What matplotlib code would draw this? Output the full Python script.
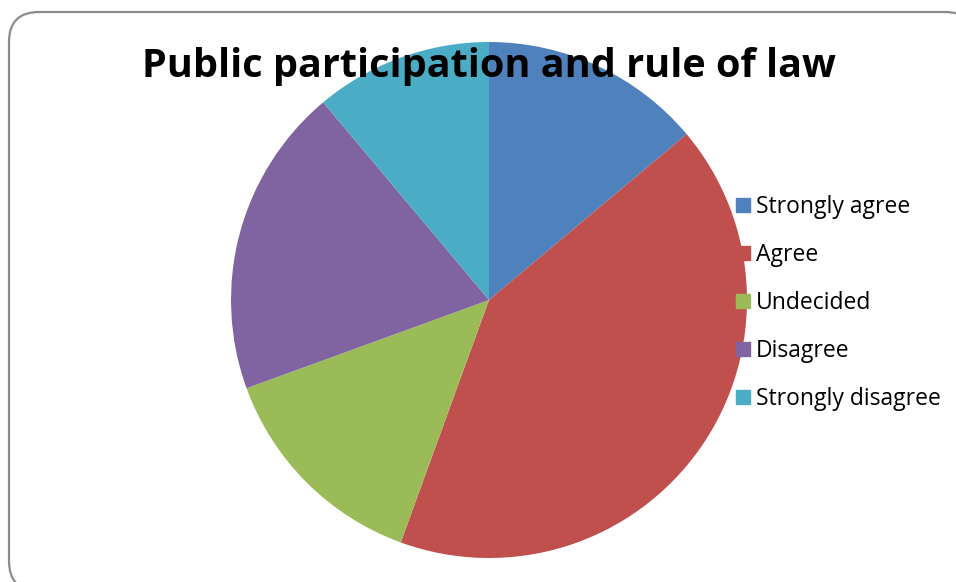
import matplotlib.pyplot as plt
from matplotlib.patches import FancyBboxPatch
from matplotlib.lines import Line2D

# Responses
categories = ["Strongly agree", "Agree", "Undecided", "Disagree", "Strongly disagree"]
counts = [5, 15, 5, 7, 4]
colors = ["#4F81BD", "#C0504D", "#9BBB59", "#8064A2", "#4BACC6"]

W, H = 956, 582
fig = plt.figure(figsize=(W / 100, H / 100), dpi=100)
ax = fig.add_axes([0, 0, 1, 1])

# rounded chart frame, running off the right and bottom edges
frame = FancyBboxPatch((9, -9), 966, H - 12 + 9,
                       boxstyle="round,pad=0,rounding_size=30",
                       facecolor="white", edgecolor="#8c8c8c", lw=1.6, zorder=0)
ax.add_patch(frame)

ax.pie(counts, colors=colors, startangle=90, counterclock=False,
       center=(489, H - 300), radius=258, frame=True,
       wedgeprops=dict(linewidth=0, zorder=1))
ax.set_xlim(0, W)
ax.set_ylim(0, H)
ax.set_aspect("equal")
ax.axis("off")

ax.text(489, H - 66, "Public participation and rule of law", ha="center", va="center",
        fontsize=28.5, fontweight="bold", family="Open Sans", zorder=5)

handles = [Line2D([], [], marker="s", linestyle="none", markersize=10,
                  markerfacecolor=c, markeredgecolor=c) for c in colors]
leg = ax.legend(handles, categories, loc="upper left", bbox_to_anchor=(728 / W, 1 - 186 / H),
                frameon=False, prop=dict(family="Open Sans", size=16.5),
                handlelength=0.5, handletextpad=0.3, labelspacing=1.05, borderaxespad=0)
leg.set_zorder(6)

fig.savefig("out.png", dpi=100)
